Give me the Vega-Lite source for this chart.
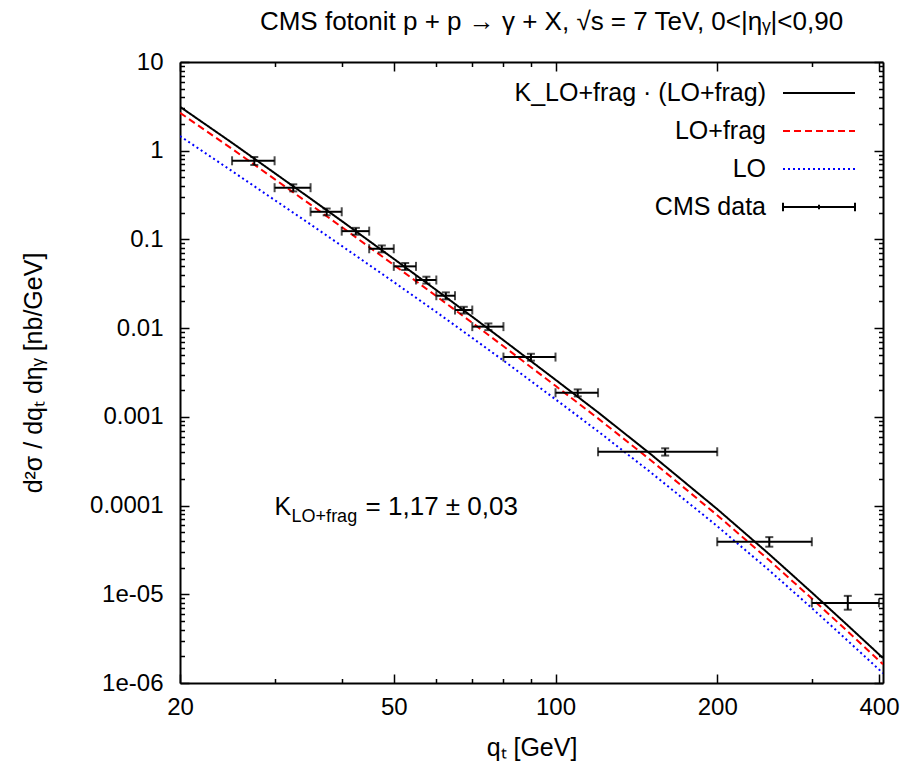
{
  "$schema": "https://vega.github.io/schema/vega-lite/v6.json",
  "width": 703,
  "height": 621,
  "autosize": {"type": "none"},
  "padding": {"left": 180, "top": 62, "right": 19, "bottom": 82},
  "background": "white",
  "config": {
    "view": {"stroke": null},
    "font": "Liberation Sans",
    "axis": {"grid": false, "domainColor": "black", "domainWidth": 2, "tickColor": "black", "tickWidth": 1.5, "labelColor": "black", "titleColor": "black", "labelFont": "Liberation Sans", "titleFont": "Liberation Sans", "labelFontSize": 24, "titleFontSize": 25, "titleFontWeight": "normal", "labelFlush": false, "labelOverlap": false},
    "legend": {"labelLimit": 0}
  },
  "title": {"text": "CMS fotonit p + p → γ + X, √s = 7 TeV, 0<|ηᵧ|<0,90", "anchor": "middle", "font": "Liberation Sans", "fontSize": 26, "fontWeight": "normal", "color": "black", "offset": 15, "dx": 20},
  "datasets": {
    "curves": [
      {"x": 20, "y": 3.13, "series": "K_LO+frag · (LO+frag)"},
      {"x": 25, "y": 1.227, "series": "K_LO+frag · (LO+frag)"},
      {"x": 30, "y": 0.56, "series": "K_LO+frag · (LO+frag)"},
      {"x": 35, "y": 0.2884, "series": "K_LO+frag · (LO+frag)"},
      {"x": 40, "y": 0.1614, "series": "K_LO+frag · (LO+frag)"},
      {"x": 50, "y": 0.0604, "series": "K_LO+frag · (LO+frag)"},
      {"x": 60, "y": 0.02685, "series": "K_LO+frag · (LO+frag)"},
      {"x": 70, "y": 0.01343, "series": "K_LO+frag · (LO+frag)"},
      {"x": 80, "y": 0.00731, "series": "K_LO+frag · (LO+frag)"},
      {"x": 100, "y": 0.002618, "series": "K_LO+frag · (LO+frag)"},
      {"x": 120, "y": 0.001125, "series": "K_LO+frag · (LO+frag)"},
      {"x": 150, "y": 0.0003846, "series": "K_LO+frag · (LO+frag)"},
      {"x": 200, "y": 0.0000912, "series": "K_LO+frag · (LO+frag)"},
      {"x": 250, "y": 0.00002825, "series": "K_LO+frag · (LO+frag)"},
      {"x": 300, "y": 0.00001047, "series": "K_LO+frag · (LO+frag)"},
      {"x": 350, "y": 0.00000445, "series": "K_LO+frag · (LO+frag)"},
      {"x": 407, "y": 0.00000191, "series": "K_LO+frag · (LO+frag)"},
      {"x": 20, "y": 2.675, "series": "LO+frag"},
      {"x": 25, "y": 1.049, "series": "LO+frag"},
      {"x": 30, "y": 0.4786, "series": "LO+frag"},
      {"x": 35, "y": 0.2465, "series": "LO+frag"},
      {"x": 40, "y": 0.138, "series": "LO+frag"},
      {"x": 50, "y": 0.0516, "series": "LO+frag"},
      {"x": 60, "y": 0.02295, "series": "LO+frag"},
      {"x": 70, "y": 0.01148, "series": "LO+frag"},
      {"x": 80, "y": 0.00625, "series": "LO+frag"},
      {"x": 100, "y": 0.002238, "series": "LO+frag"},
      {"x": 120, "y": 0.000961, "series": "LO+frag"},
      {"x": 150, "y": 0.0003287, "series": "LO+frag"},
      {"x": 200, "y": 0.0000779, "series": "LO+frag"},
      {"x": 250, "y": 0.00002415, "series": "LO+frag"},
      {"x": 300, "y": 0.00000895, "series": "LO+frag"},
      {"x": 350, "y": 0.0000038, "series": "LO+frag"},
      {"x": 407, "y": 0.00000163, "series": "LO+frag"},
      {"x": 20, "y": 1.462, "series": "LO"},
      {"x": 25, "y": 0.589, "series": "LO"},
      {"x": 30, "y": 0.278, "series": "LO"},
      {"x": 35, "y": 0.1476, "series": "LO"},
      {"x": 40, "y": 0.0846, "series": "LO"},
      {"x": 50, "y": 0.0331, "series": "LO"},
      {"x": 60, "y": 0.0152, "series": "LO"},
      {"x": 70, "y": 0.00776, "series": "LO"},
      {"x": 80, "y": 0.00431, "series": "LO"},
      {"x": 100, "y": 0.001576, "series": "LO"},
      {"x": 120, "y": 0.000687, "series": "LO"},
      {"x": 150, "y": 0.0002399, "series": "LO"},
      {"x": 200, "y": 0.0000586, "series": "LO"},
      {"x": 250, "y": 0.00001857, "series": "LO"},
      {"x": 300, "y": 0.00000699, "series": "LO"},
      {"x": 350, "y": 0.00000299, "series": "LO"},
      {"x": 407, "y": 0.00000129, "series": "LO"}
    ],
    "cms": [
      {"x": 27.5, "xlo": 25, "xhi": 30, "y": 0.77, "ylo": 0.69, "yhi": 0.85},
      {"x": 32.5, "xlo": 30, "xhi": 35, "y": 0.383, "ylo": 0.348, "yhi": 0.418},
      {"x": 37.5, "xlo": 35, "xhi": 40, "y": 0.205, "ylo": 0.187, "yhi": 0.223},
      {"x": 42.5, "xlo": 40, "xhi": 45, "y": 0.124, "ylo": 0.113, "yhi": 0.135},
      {"x": 47.5, "xlo": 45, "xhi": 50, "y": 0.0785, "ylo": 0.0715, "yhi": 0.0855},
      {"x": 52.5, "xlo": 50, "xhi": 55, "y": 0.0497, "ylo": 0.0452, "yhi": 0.0542},
      {"x": 57.5, "xlo": 55, "xhi": 60, "y": 0.0349, "ylo": 0.0318, "yhi": 0.038},
      {"x": 62.5, "xlo": 60, "xhi": 65, "y": 0.0232, "ylo": 0.0211, "yhi": 0.0253},
      {"x": 67.5, "xlo": 65, "xhi": 70, "y": 0.016, "ylo": 0.0146, "yhi": 0.0174},
      {"x": 75, "xlo": 70, "xhi": 80, "y": 0.0104, "ylo": 0.0095, "yhi": 0.0113},
      {"x": 90, "xlo": 80, "xhi": 100, "y": 0.00472, "ylo": 0.0043, "yhi": 0.00514},
      {"x": 110, "xlo": 100, "xhi": 120, "y": 0.00187, "ylo": 0.0017, "yhi": 0.00204},
      {"x": 160, "xlo": 120, "xhi": 200, "y": 0.000404, "ylo": 0.000366, "yhi": 0.000442},
      {"x": 250, "xlo": 200, "xhi": 300, "y": 0.0000391, "ylo": 0.0000344, "yhi": 0.0000441},
      {"x": 350, "xlo": 300, "xhi": 400, "y": 0.000008, "ylo": 0.0000067, "yhi": 0.0000096}
    ]
  },
  "resolve": {"axis": {"x": "independent", "y": "independent"}},
  "layer": [
    {
      "data": {"name": "curves"},
      "mark": {"type": "line", "strokeWidth": 2, "clip": true},
      "encoding": {
        "x": {"field": "x", "type": "quantitative", "scale": {"type": "log", "domain": [20, 407], "nice": false},
          "axis": {"orient": "bottom", "title": "qₜ [GeV]", "values": [20, 30, 40, 50, 60, 70, 80, 90, 100, 200, 300, 400],
            "labelExpr": "indexof([20,50,100,200,400], datum.value) >= 0 ? toString(datum.value) : ''",
            "tickSize": {"condition": {"test": "indexof([20,50,100,200,400], datum.value) >= 0", "value": -9}, "value": -4.5},
            "labelPadding": 21, "titlePadding": 12}},
        "y": {"field": "y", "type": "quantitative", "scale": {"type": "log", "domain": [0.000001, 10], "nice": false},
          "axis": {"orient": "left", "title": "d²σ / dqₜ dηᵧ [nb/GeV]",
            "values": [0.000001, 0.000002, 0.000003, 0.000004, 0.000005, 0.000006, 0.000007, 0.000008, 0.000009, 0.00001, 0.00002, 0.00003, 0.00004, 0.00005, 0.00006, 0.00007, 0.00008, 0.00009, 0.0001, 0.0002, 0.0003, 0.0004, 0.0005, 0.0006, 0.0007, 0.0008, 0.0009, 0.001, 0.002, 0.003, 0.004, 0.005, 0.006, 0.007, 0.008, 0.009, 0.01, 0.02, 0.03, 0.04, 0.05, 0.06, 0.07, 0.08, 0.09, 0.1, 0.2, 0.3, 0.4, 0.5, 0.6, 0.7, 0.8, 0.9, 1, 2, 3, 4, 5, 6, 7, 8, 9, 10],
            "labelExpr": "datum.value == 0.000001 ? '1e-06' : datum.value == 0.00001 ? '1e-05' : indexof([0.0001,0.001,0.01,0.1,1,10], datum.value) >= 0 ? toString(datum.value) : ''",
            "tickSize": {"condition": {"test": "indexof([0.000001,0.00001,0.0001,0.001,0.01,0.1,1,10], datum.value) >= 0", "value": -9}, "value": -4.5},
            "labelPadding": 26, "titlePadding": 43}},
        "color": {"field": "series", "type": "nominal",
          "scale": {"domain": ["K_LO+frag · (LO+frag)", "LO+frag", "LO", "CMS data"], "range": ["#000000", "#ff0000", "#0000ff", "#000000"]},
          "legend": {"title": null, "orient": "none", "legendX": 602, "legendY": 18, "padding": 0, "symbolType": "M-3,0L3,0", "symbolSize": 576, "symbolStrokeWidth": 2, "symbolOffset": 24,
            "labelFont": "Liberation Sans", "labelFontSize": 25, "labelColor": "black", "labelAlign": "right", "labelOffset": -66, "rowPadding": 12,
            "encode": {"symbols": {"update": {
              "shape": {"signal": "datum.value === 'CMS data' ? 'M-3,0L3,0M-3,-0.36L-3,0.36M3,-0.36L3,0.36M0,-0.18L0,0.18' : 'M-3,0L3,0'"},
              "stroke": {"scale": "color", "field": "value"},
              "strokeDash": {"scale": "strokeDash", "field": "value"},
              "strokeWidth": {"value": 2},
              "fill": {"value": "transparent"},
              "opacity": {"value": 1}}}}}},
        "strokeDash": {"field": "series", "type": "nominal",
          "scale": {"domain": ["K_LO+frag · (LO+frag)", "LO+frag", "LO", "CMS data"], "range": [[1, 0], [7, 4], [2, 3], [1, 0]]},
          "legend": {"title": null, "orient": "none", "legendX": 602, "legendY": 18, "padding": 0, "symbolType": "M-3,0L3,0", "symbolSize": 576, "symbolStrokeWidth": 2, "symbolOffset": 24,
            "labelFont": "Liberation Sans", "labelFontSize": 25, "labelColor": "black", "labelAlign": "right", "labelOffset": -66, "rowPadding": 12,
            "encode": {"symbols": {"update": {
              "shape": {"signal": "datum.value === 'CMS data' ? 'M-3,0L3,0M-3,-0.36L-3,0.36M3,-0.36L3,0.36M0,-0.18L0,0.18' : 'M-3,0L3,0'"},
              "stroke": {"scale": "color", "field": "value"},
              "strokeDash": {"scale": "strokeDash", "field": "value"},
              "strokeWidth": {"value": 2},
              "fill": {"value": "transparent"},
              "opacity": {"value": 1}}}}}}
      }
    },
    {
      "data": {"name": "cms"},
      "mark": {"type": "rule", "color": "black", "strokeWidth": 2},
      "encoding": {
        "x": {"field": "xlo", "type": "quantitative", "scale": {"type": "log", "domain": [20, 407], "nice": false},
          "axis": {"orient": "top", "title": null, "labels": false, "values": [20, 30, 40, 50, 60, 70, 80, 90, 100, 200, 300, 400],
            "tickSize": {"condition": {"test": "indexof([20,50,100,200,400], datum.value) >= 0", "value": -9}, "value": -4.5}}},
        "x2": {"field": "xhi"},
        "y": {"field": "y", "type": "quantitative", "scale": {"type": "log", "domain": [0.000001, 10], "nice": false},
          "axis": {"orient": "right", "title": null, "labels": false,
            "values": [0.000001, 0.000002, 0.000003, 0.000004, 0.000005, 0.000006, 0.000007, 0.000008, 0.000009, 0.00001, 0.00002, 0.00003, 0.00004, 0.00005, 0.00006, 0.00007, 0.00008, 0.00009, 0.0001, 0.0002, 0.0003, 0.0004, 0.0005, 0.0006, 0.0007, 0.0008, 0.0009, 0.001, 0.002, 0.003, 0.004, 0.005, 0.006, 0.007, 0.008, 0.009, 0.01, 0.02, 0.03, 0.04, 0.05, 0.06, 0.07, 0.08, 0.09, 0.1, 0.2, 0.3, 0.4, 0.5, 0.6, 0.7, 0.8, 0.9, 1, 2, 3, 4, 5, 6, 7, 8, 9, 10],
            "tickSize": {"condition": {"test": "indexof([0.000001,0.00001,0.0001,0.001,0.01,0.1,1,10], datum.value) >= 0", "value": -9}, "value": -4.5}}}
      }
    },
    {
      "data": {"name": "cms"},
      "mark": {"type": "rule", "color": "black", "strokeWidth": 2},
      "encoding": {
        "x": {"field": "x", "type": "quantitative", "scale": {"type": "log", "domain": [20, 407], "nice": false}, "axis": null},
        "y": {"field": "ylo", "type": "quantitative", "scale": {"type": "log", "domain": [0.000001, 10], "nice": false}, "axis": null},
        "y2": {"field": "yhi"}
      }
    },
    {
      "data": {"name": "cms"},
      "mark": {"type": "tick", "orient": "vertical", "color": "black", "size": 9, "thickness": 2},
      "encoding": {
        "x": {"field": "xlo", "type": "quantitative", "scale": {"type": "log", "domain": [20, 407], "nice": false}, "axis": null},
        "y": {"field": "y", "type": "quantitative", "scale": {"type": "log", "domain": [0.000001, 10], "nice": false}, "axis": null}
      }
    },
    {
      "data": {"name": "cms"},
      "mark": {"type": "tick", "orient": "vertical", "color": "black", "size": 9, "thickness": 2},
      "encoding": {
        "x": {"field": "xhi", "type": "quantitative", "scale": {"type": "log", "domain": [20, 407], "nice": false}, "axis": null},
        "y": {"field": "y", "type": "quantitative", "scale": {"type": "log", "domain": [0.000001, 10], "nice": false}, "axis": null}
      }
    },
    {
      "data": {"name": "cms"},
      "mark": {"type": "tick", "orient": "horizontal", "color": "black", "size": 8, "thickness": 2},
      "encoding": {
        "x": {"field": "x", "type": "quantitative", "scale": {"type": "log", "domain": [20, 407], "nice": false}, "axis": null},
        "y": {"field": "ylo", "type": "quantitative", "scale": {"type": "log", "domain": [0.000001, 10], "nice": false}, "axis": null}
      }
    },
    {
      "data": {"name": "cms"},
      "mark": {"type": "tick", "orient": "horizontal", "color": "black", "size": 8, "thickness": 2},
      "encoding": {
        "x": {"field": "x", "type": "quantitative", "scale": {"type": "log", "domain": [20, 407], "nice": false}, "axis": null},
        "y": {"field": "yhi", "type": "quantitative", "scale": {"type": "log", "domain": [0.000001, 10], "nice": false}, "axis": null}
      }
    },
    {
      "data": {"values": [{"note": "K"}]},
      "mark": {"type": "text", "font": "Liberation Sans", "fontSize": 25, "align": "left", "baseline": "alphabetic", "dy": 9, "color": "black"},
      "encoding": {
        "text": {"field": "note"},
        "x": {"datum": 30, "type": "quantitative", "scale": {"type": "log", "domain": [20, 407], "nice": false}, "axis": null},
        "y": {"datum": 0.0001, "type": "quantitative", "scale": {"type": "log", "domain": [0.000001, 10], "nice": false}, "axis": null}
      }
    },
    {
      "data": {"values": [{"note": "LO+frag"}]},
      "mark": {"type": "text", "font": "Liberation Sans", "fontSize": 18, "align": "left", "baseline": "alphabetic", "dx": 17, "dy": 16, "color": "black"},
      "encoding": {
        "text": {"field": "note"},
        "x": {"datum": 30, "type": "quantitative", "scale": {"type": "log", "domain": [20, 407], "nice": false}, "axis": null},
        "y": {"datum": 0.0001, "type": "quantitative", "scale": {"type": "log", "domain": [0.000001, 10], "nice": false}, "axis": null}
      }
    },
    {
      "data": {"values": [{"note": "= 1,17 ± 0,03"}]},
      "mark": {"type": "text", "font": "Liberation Sans", "fontSize": 26, "align": "left", "baseline": "alphabetic", "dx": 91, "dy": 9, "color": "black"},
      "encoding": {
        "text": {"field": "note"},
        "x": {"datum": 30, "type": "quantitative", "scale": {"type": "log", "domain": [20, 407], "nice": false}, "axis": null},
        "y": {"datum": 0.0001, "type": "quantitative", "scale": {"type": "log", "domain": [0.000001, 10], "nice": false}, "axis": null}
      }
    }
  ]
}
